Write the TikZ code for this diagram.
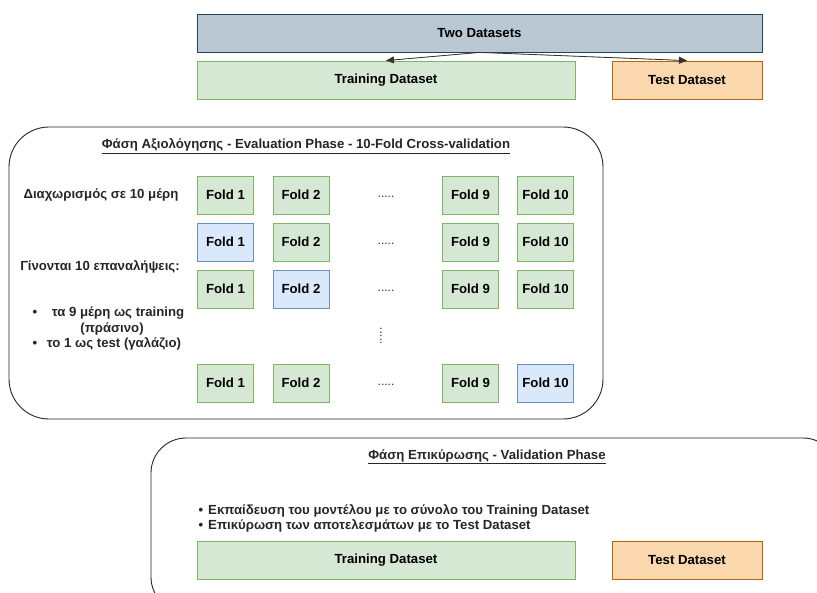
\documentclass[tikz,border=0pt]{standalone}
\usepackage{fontspec}
\setmainfont{Liberation Sans}
\usetikzlibrary{arrows.meta}
\definecolor{slatefill}{HTML}{BAC8D3}
\definecolor{slatedraw}{HTML}{23445D}
\definecolor{greenfill}{HTML}{D5E8D4}
\definecolor{greendraw}{HTML}{82B366}
\definecolor{bluefill}{HTML}{DAE8FC}
\definecolor{bluedraw}{HTML}{6C8EBF}
\definecolor{orangefill}{HTML}{FAD7AC}
\definecolor{orangedraw}{HTML}{B46504}
\begin{document}
\begin{tikzpicture}[x=1pt,y=-1pt,
  every node/.style={font=\fontsize{13.2}{15}\selectfont\bfseries, inner sep=0pt},
  boxbase/.style={draw, line width=0.8pt, minimum height=38pt},
  slatebox/.style={boxbase, fill=slatefill, draw=slatedraw},
  greenbox/.style={boxbase, fill=greenfill, draw=greendraw},
  bluebox/.style={boxbase, fill=bluefill, draw=bluedraw},
  orangebox/.style={boxbase, fill=orangefill, draw=orangedraw},
  foldg/.style={greenbox, minimum width=56pt},
  foldb/.style={bluebox, minimum width=56pt},
  phase/.style={draw=black!85, line width=0.9pt, rounded corners=40pt},
  split/.style={-{Triangle[length=8pt,width=7pt]}, line width=0.8pt, draw=black!80, fill=black},
  txt/.style={text=black!85},
  dotrow/.style={txt, font=\fontsize{12}{14}\selectfont}
]
\useasboundingbox (0,0) rectangle (817,592);

% top: full data split into two sets
\node[slatebox, minimum width=565pt] (two) at (479.5,33) {Two Datasets};
\node[greenbox, minimum width=378pt] (train) at (386,80) {Training Dataset};
\node[orangebox, minimum width=150pt] (test) at (687,80) {Test Dataset};
\draw[split] (two.south) -- (train.north);
\draw[split] (two.south) -- (test.north);

% evaluation phase frame
\draw[phase] (9,127) rectangle (603,419);
\node[txt] (evtitle) at (306,146) {\underline{Φάση Αξιολόγησης - Evaluation Phase - 10-Fold Cross-validation}};

\node[txt] (splitlbl) at (101,195) {Διαχωρισμός σε 10 μέρη};
\node[txt] (iterlbl) at (100,267) {Γίνονται 10 επαναλήψεις:};
\node[txt] (b1) at (35,313) {•};
\node[txt] (l1) at (118,313) {τα 9 μέρη ως training};
\node[txt] (l2) at (112,329) {(πράσινο)};
\node[txt] (b2) at (35,344) {•};
\node[txt] (l3) at (114,344) {το 1 ως test (γαλάζιο)};

% fold grid
\foreach \r/\y in {1/197,2/244,3/291,4/385}{
  \node[dotrow] (dots\r) at (386,\y) {.....};
}
\node[foldg] (f11) at (225.5,195) {Fold 1};
\node[foldg] (f12) at (301,195) {Fold 2};
\node[foldg] (f19) at (470.5,195) {Fold 9};
\node[foldg] (f110) at (545.5,195) {Fold 10};

\node[foldb] (f21) at (225.5,242) {Fold 1};
\node[foldg] (f22) at (301,242) {Fold 2};
\node[foldg] (f29) at (470.5,242) {Fold 9};
\node[foldg] (f210) at (545.5,242) {Fold 10};

\node[foldg] (f31) at (225.5,289) {Fold 1};
\node[foldb] (f32) at (301,289) {Fold 2};
\node[foldg] (f39) at (470.5,289) {Fold 9};
\node[foldg] (f310) at (545.5,289) {Fold 10};

\node[dotrow, rotate=90] (vdots) at (381,336) {.....};

\node[foldg] (f41) at (225.5,383) {Fold 1};
\node[foldg] (f42) at (301,383) {Fold 2};
\node[foldg] (f49) at (470.5,383) {Fold 9};
\node[foldb] (f410) at (545.5,383) {Fold 10};

% validation phase frame, running off the page
\begin{scope}
\clip (0,0) rectangle (817,592);
\draw[phase, rounded corners=35pt] (151,438) rectangle (838,612);
\end{scope}
\node[txt] (vatitle) at (487,457) {\underline{Φάση Επικύρωσης - Validation Phase}};
\node[txt] (vb1) at (201,511) {•};
\node[txt, anchor=west] (vl1) at (208,511) {Εκπαίδευση του μοντέλου με το σύνολο του Training Dataset};
\node[txt] (vb2) at (201,526) {•};
\node[txt, anchor=west] (vl2) at (208,526) {Επικύρωση των αποτελεσμάτων με το Test Dataset};
\node[greenbox, minimum width=378pt] (train2) at (386,560.5) {Training Dataset};
\node[orangebox, minimum width=150pt] (test2) at (687,560.5) {Test Dataset};
\end{tikzpicture}
\end{document}
